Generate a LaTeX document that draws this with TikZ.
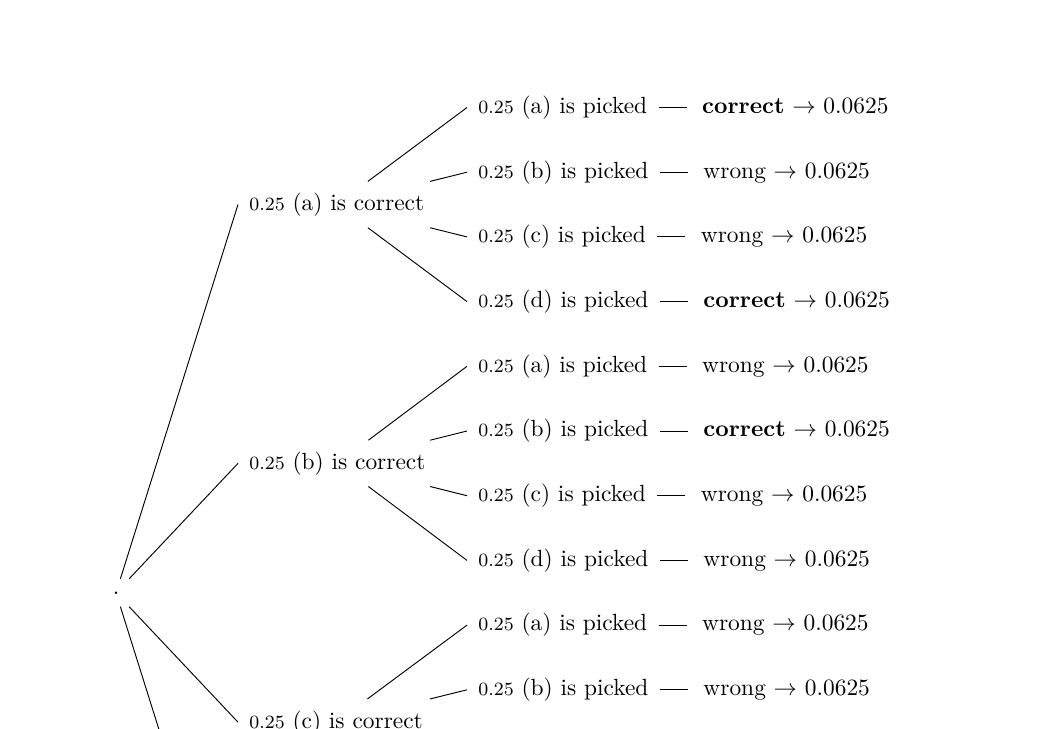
\documentclass[tikz,border=0pt]{standalone}
\begin{document}
\begin{tikzpicture}[x=0.42735pt,y=-0.42735pt,
  treenode/.style={anchor=west,inner sep=4.7pt,text height=7.5pt,text depth=2.5pt},
  outnode/.style={treenode,inner xsep=4.7pt},
  rootnode/.style={inner xsep=4.7pt,inner ysep=5.2pt,text height=1.1pt,text depth=0pt},
  edgeline/.style={line width=0.4pt}]
\useasboundingbox (0,0) rectangle (1062,728);
\clip (0,0) rectangle (1062,728);
% root
\node[rootnode] (R) at (116,592.75) {.};
% level 1
\node[treenode] (A) at (238,204.55) {{\footnotesize 0.25} (a) is correct};
\node[treenode] (B) at (238,463.35) {{\footnotesize 0.25} (b) is correct};
\node[treenode] (C) at (238,722.15) {{\footnotesize 0.25} (c) is correct};
\coordinate (D) at (238,980.95);
% leaves
\node[treenode] (Aa) at (467,107.5) {{\footnotesize 0.25} (a) is picked};
\node[treenode] (Ab) at (467,172.2) {{\footnotesize 0.25} (b) is picked};
\node[treenode] (Ac) at (467,236.9) {{\footnotesize 0.25} (c) is picked};
\node[treenode] (Ad) at (467,301.6) {{\footnotesize 0.25} (d) is picked};
\node[treenode] (Ba) at (467,366.3) {{\footnotesize 0.25} (a) is picked};
\node[treenode] (Bb) at (467,431.0) {{\footnotesize 0.25} (b) is picked};
\node[treenode] (Bc) at (467,495.7) {{\footnotesize 0.25} (c) is picked};
\node[treenode] (Bd) at (467,560.4) {{\footnotesize 0.25} (d) is picked};
\node[treenode] (Ca) at (467,625.1) {{\footnotesize 0.25} (a) is picked};
\node[treenode] (Cb) at (467,689.8) {{\footnotesize 0.25} (b) is picked};
% outcomes
\node[outnode] (oAa) at ([xshift=12pt]Aa.east) {\hspace*{1.7pt}\textbf{correct} $\rightarrow$ 0.0625};
\node[outnode] (oAb) at ([xshift=12pt]Ab.east) {\hspace*{1.7pt}wrong $\rightarrow$ 0.0625};
\node[outnode] (oAc) at ([xshift=12pt]Ac.east) {\hspace*{1.7pt}wrong $\rightarrow$ 0.0625};
\node[outnode] (oAd) at ([xshift=12pt]Ad.east) {\hspace*{1.7pt}\textbf{correct} $\rightarrow$ 0.0625};
\node[outnode] (oBa) at ([xshift=12pt]Ba.east) {\hspace*{1.7pt}wrong $\rightarrow$ 0.0625};
\node[outnode] (oBb) at ([xshift=12pt]Bb.east) {\hspace*{1.7pt}\textbf{correct} $\rightarrow$ 0.0625};
\node[outnode] (oBc) at ([xshift=12pt]Bc.east) {\hspace*{1.7pt}wrong $\rightarrow$ 0.0625};
\node[outnode] (oBd) at ([xshift=12pt]Bd.east) {\hspace*{1.7pt}wrong $\rightarrow$ 0.0625};
\node[outnode] (oCa) at ([xshift=12pt]Ca.east) {\hspace*{1.7pt}wrong $\rightarrow$ 0.0625};
\node[outnode] (oCb) at ([xshift=12pt]Cb.east) {\hspace*{1.7pt}wrong $\rightarrow$ 0.0625};
% edges root
\foreach \t in {A,B,C} \draw[edgeline] (R) -- (\t.west);
\draw[edgeline] (R) -- (D);
% edges level 1 -> leaves
\foreach \p in {A,B} {
  \foreach \c in {a,b,c,d} \draw[edgeline] (\p) -- (\p\c.west);
}
\foreach \c in {a,b} \draw[edgeline] (C) -- (C\c.west);
% dashes
\foreach \l in {Aa,Ab,Ac,Ad,Ba,Bb,Bc,Bd,Ca,Cb} \draw[edgeline] (\l.east) -- (o\l.west);
\end{tikzpicture}
\end{document}
